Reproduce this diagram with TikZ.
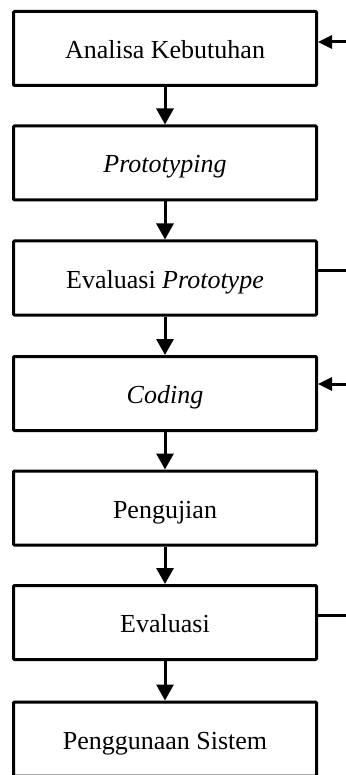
\documentclass[tikz,border=0pt]{standalone}
\usepackage{fontspec}
\setmainfont{Liberation Serif}
\usetikzlibrary{arrows.meta}
\begin{document}
\begin{tikzpicture}[x=1pt,y=-1pt,
  stepbox/.style={draw=black, line width=3pt, rounded corners=1pt, minimum width=303pt, minimum height=74pt, inner sep=0pt, text height=20pt, text depth=0pt, font=\fontsize{26}{30}\selectfont, fill=white},
  flow/.style={line width=3pt, -{Triangle[length=16pt,width=17pt]}},
  side/.style={line width=3pt, -{Triangle[length=14pt,width=13pt]}},
  sideout/.style={line width=3pt}]
\useasboundingbox (0,0) rectangle (345,775);
\node[stepbox] (a) at (165,48.5) {Analisa Kebutuhan};
\node[stepbox] (b) at (165,163) {\textit{Prototyping}};
\node[stepbox] (c) at (165,278) {Evaluasi \textit{Prototype}};
\node[stepbox] (d) at (165,393.5) {\textit{Coding}};
\node[stepbox] (e) at (165,508) {Pengujian};
\node[stepbox] (f) at (165,622.5) {Evaluasi};
\node[stepbox] (g) at (165,739) {Penggunaan Sistem};
\draw[flow] (a) -- (b);
\draw[flow] (b) -- (c);
\draw[flow] (c) -- (d);
\draw[flow] (d) -- (e);
\draw[flow] (e) -- (f);
\draw[flow] (f) -- (g);
\coordinate (ain) at (346,42);
\coordinate (cout) at (346,270);
\coordinate (din) at (346,384);
\coordinate (fout) at (346,615);
\draw[side] (ain) -- (a.east |- ain);
\draw[sideout] (c.east |- cout) -- (cout);
\draw[side] (din) -- (d.east |- din);
\draw[sideout] (f.east |- fout) -- (fout);
\end{tikzpicture}
\end{document}
